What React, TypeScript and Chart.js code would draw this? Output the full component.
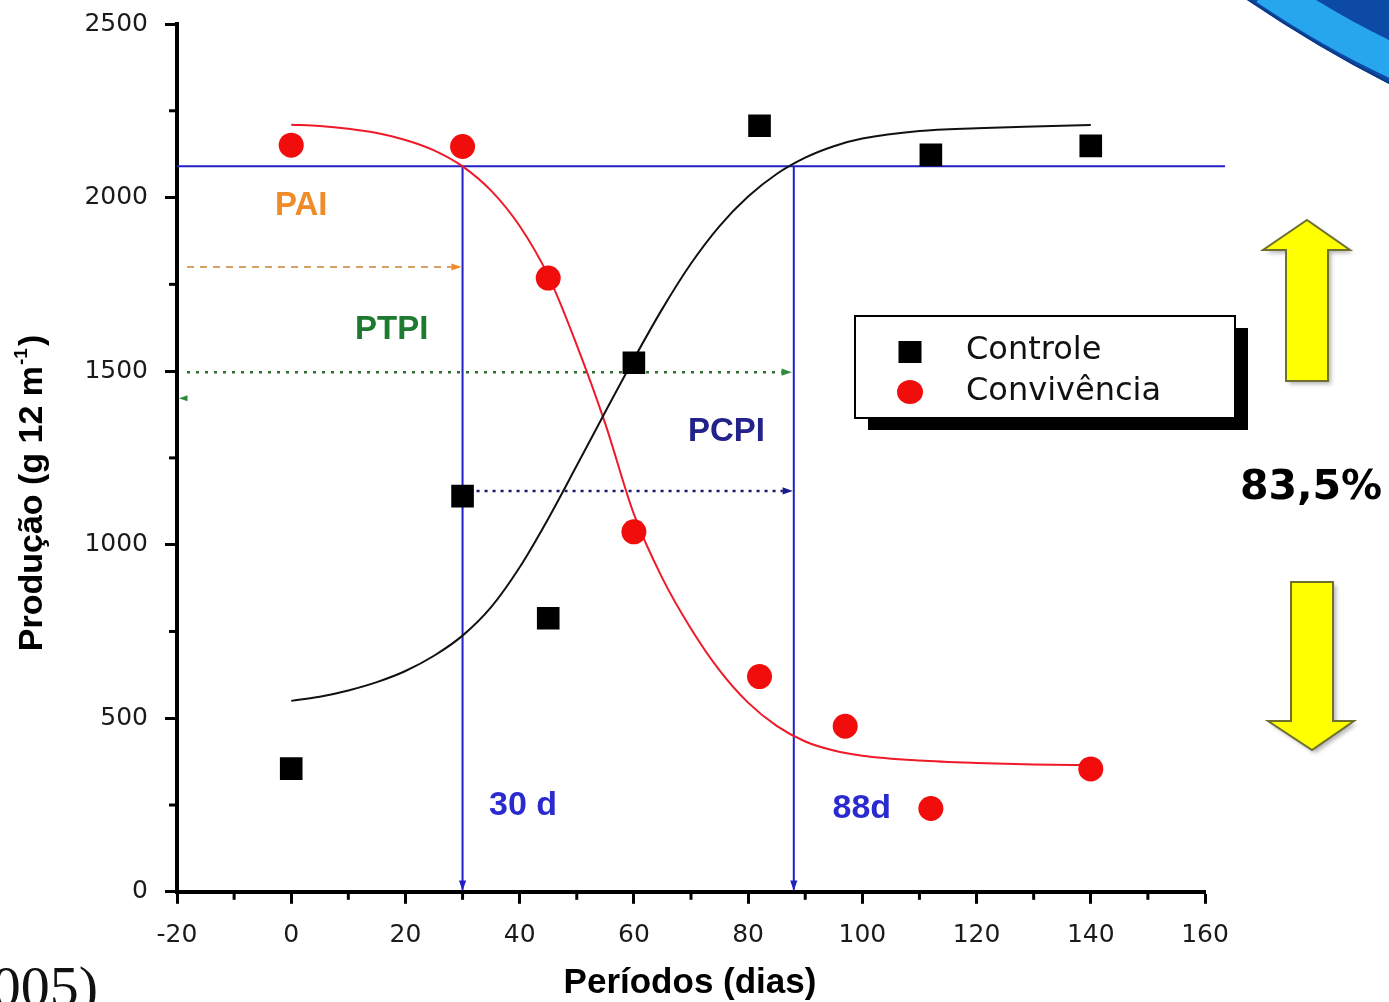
import React, { useEffect, useRef } from 'react';
import { Chart, registerables } from 'chart.js';
Chart.register(...registerables);

// ---- data ----
const controleX = [0, 30, 45, 60, 82, 112, 140];
const controleY = [355, 1140, 788, 1524, 2207, 2123, 2149];
const convX = [0, 30, 45, 60, 82, 97, 112, 140];
const convY = [2151, 2147, 1768, 1037, 620, 477, 240, 354];

const curveX = [0, 5, 10, 15, 20, 25, 30, 35, 40, 45, 50, 55, 60, 65, 70, 75, 80, 85, 90, 95, 100, 110, 120, 130, 140];
const controleCurveY = [550, 562, 580, 604, 636, 680, 738, 820, 935, 1075, 1228, 1383, 1535, 1680, 1810, 1918, 2003, 2068, 2115, 2148, 2170, 2192, 2200, 2205, 2209];
const convCurveY = [2210, 2206, 2198, 2186, 2166, 2136, 2090, 2020, 1918, 1775, 1575, 1348, 1088, 903, 758, 638, 545, 478, 433, 407, 392, 378, 371, 367, 365];

const xTickValues = [-20, 0, 20, 40, 60, 80, 100, 120, 140, 160];
const yTickValues = [0, 500, 1000, 1500, 2000, 2500];
const xMinorTicks = [-10, 10, 30, 50, 70, 90, 110, 130, 150];
const yMinorTicks = [250, 750, 1250, 1750, 2250];

const seriesNames = ['Controle', 'Convivência'];
const refLevel = 2090;
const paiDay = 30;
const pcpiDay = 88;
const paiArrowY = 1800;
const ptpiArrowY = 1497;
const pcpiArrowY = 1155;
const reduction = '83,5%';

const toPts = (xs: number[], ys: number[]) => xs.map((x, i) => ({ x, y: ys[i] }));

function arrowHead(ctx: CanvasRenderingContext2D, x: number, y: number, dir: string, size: number, color: string) {
  ctx.save();
  ctx.fillStyle = color;
  ctx.beginPath();
  if (dir === 'right') {
    ctx.moveTo(x, y); ctx.lineTo(x - size * 1.7, y - size * 0.6); ctx.lineTo(x - size * 1.7, y + size * 0.6);
  } else if (dir === 'down') {
    ctx.moveTo(x, y); ctx.lineTo(x - size * 0.6, y - size * 1.7); ctx.lineTo(x + size * 0.6, y - size * 1.7);
  } else {
    ctx.moveTo(x, y); ctx.lineTo(x + size * 1.7, y - size * 0.6); ctx.lineTo(x + size * 1.7, y + size * 0.6);
  }
  ctx.closePath();
  ctx.fill();
  ctx.restore();
}

const annotPlugin = {
  id: 'annot',
  beforeDatasetsDraw(chart: any) {
    const { ctx, chartArea } = chart;
    const x = chart.scales.x, y = chart.scales.y;
    ctx.save();
    const blue = '#2020c4';
    ctx.strokeStyle = blue;
    ctx.lineWidth = 2;
    const yRef = y.getPixelForValue(refLevel);
    ctx.beginPath();
    ctx.moveTo(chartArea.left, yRef);
    ctx.lineTo(x.getPixelForValue(163.5), yRef);
    ctx.stroke();
    [paiDay, pcpiDay].forEach((d) => {
      const px = x.getPixelForValue(d);
      ctx.beginPath();
      ctx.moveTo(px, yRef);
      ctx.lineTo(px, y.getPixelForValue(0) - 2);
      ctx.stroke();
      arrowHead(ctx, px, y.getPixelForValue(0) - 1, 'down', 6, blue);
    });

    const drawDashed = (x1: number, x2: number, yy: number, dash: number[], color: string, headColor: string, w: number) => {
      ctx.save();
      ctx.setLineDash(dash);
      ctx.strokeStyle = color;
      ctx.lineWidth = w;
      ctx.beginPath();
      ctx.moveTo(x1, yy);
      ctx.lineTo(x2 - 10, yy);
      ctx.stroke();
      ctx.restore();
      arrowHead(ctx, x2, yy, 'right', 6, headColor);
    };
    drawDashed(chartArea.left + 10, x.getPixelForValue(paiDay) - 1, y.getPixelForValue(paiArrowY), [7, 6], '#d9a06a', '#f08a28', 2);
    drawDashed(chartArea.left + 10, x.getPixelForValue(pcpiDay) - 2, y.getPixelForValue(ptpiArrowY), [3, 6], '#2e6e30', '#2e8b3a', 2.5);
    drawDashed(x.getPixelForValue(paiDay) + 14, x.getPixelForValue(pcpiDay) - 1, y.getPixelForValue(pcpiArrowY), [3, 5], '#1a1a6e', '#1a1a8a', 2.5);
    arrowHead(ctx, chartArea.left + 2, y.getPixelForValue(1422), 'left', 5, '#2e8b3a');
    ctx.restore();
  },
  afterDraw(chart: any) {
    const { ctx, chartArea } = chart;
    const x = chart.scales.x, y = chart.scales.y;
    ctx.save();
    // minor ticks
    ctx.strokeStyle = '#000';
    ctx.lineWidth = 3;
    xMinorTicks.forEach((v) => {
      const px = x.getPixelForValue(v);
      ctx.beginPath(); ctx.moveTo(px, chartArea.bottom + 2); ctx.lineTo(px, chartArea.bottom + 8); ctx.stroke();
    });
    yMinorTicks.forEach((v) => {
      const py = y.getPixelForValue(v);
      ctx.beginPath(); ctx.moveTo(chartArea.left - 2, py); ctx.lineTo(chartArea.left - 8, py); ctx.stroke();
    });

    // axis titles
    ctx.fillStyle = '#000';
    ctx.font = 'bold 35px "Liberation Sans", Arial, sans-serif';
    ctx.textAlign = 'center';
    ctx.textBaseline = 'alphabetic';
    ctx.fillText('Períodos (dias)', 690, 993);

    ctx.save();
    ctx.translate(42, 493);
    ctx.rotate(-Math.PI / 2);
    const mainT = 'Produção (g 12 m';
    const supT = '-1';
    const endT = ')';
    ctx.font = 'bold 34px "Liberation Sans", Arial, sans-serif';
    const wMain = ctx.measureText(mainT).width;
    const wEnd = ctx.measureText(endT).width;
    ctx.font = 'bold 19px "Liberation Sans", Arial, sans-serif';
    const wSup = ctx.measureText(supT).width;
    const total = wMain + wSup + wEnd + 3;
    const sx = -total / 2;
    ctx.textAlign = 'left';
    ctx.font = 'bold 34px "Liberation Sans", Arial, sans-serif';
    ctx.fillText(mainT, sx, 0);
    ctx.font = 'bold 19px "Liberation Sans", Arial, sans-serif';
    ctx.fillText(supT, sx + wMain + 1, -15);
    ctx.font = 'bold 34px "Liberation Sans", Arial, sans-serif';
    ctx.fillText(endT, sx + wMain + wSup + 3, 0);
    ctx.restore();

    // annotation labels
    ctx.textAlign = 'center';
    ctx.textBaseline = 'middle';
    const label = (t: string, xv: number, yv: number, color: string, size: number) => {
      ctx.font = `bold ${size}px "Liberation Sans", Arial, sans-serif`;
      ctx.fillStyle = color;
      ctx.fillText(t, x.getPixelForValue(xv), y.getPixelForValue(yv));
    };
    label('PAI', 1.75, 1976, '#f08c28', 33);
    label('PTPI', 17.6, 1620, '#1e7a30', 33);
    label('PCPI', 76.2, 1325, '#22228a', 33);
    label('30 d', 40.6, 247, '#2a2ad0', 34);
    label('88d', 99.9, 241, '#2a2ad0', 34);

    // legend
    const lx = 855, ly = 316, lw = 380, lh = 102;
    ctx.fillStyle = '#000';
    ctx.fillRect(lx + 13, ly + 12, lw, lh);
    ctx.fillStyle = '#fff';
    ctx.fillRect(lx, ly, lw, lh);
    ctx.strokeStyle = '#000';
    ctx.lineWidth = 2;
    ctx.strokeRect(lx, ly, lw, lh);
    const ds = chart.data.datasets;
    ctx.fillStyle = ds[0].backgroundColor;
    ctx.fillRect(910 - 11.5, 352 - 11, 23, 22);
    ctx.fillStyle = ds[1].backgroundColor;
    ctx.beginPath(); ctx.ellipse(910, 392, 13, 12, 0, 0, Math.PI * 2); ctx.fill();
    ctx.fillStyle = '#111';
    ctx.font = '32px "DejaVu Sans", sans-serif';
    ctx.textAlign = 'left';
    ctx.textBaseline = 'middle';
    ctx.fillText(ds[0].label, 966, 351);
    ctx.fillText(ds[1].label, 966, 392);

    // percentage & yellow arrows
    ctx.fillStyle = '#000';
    ctx.font = 'bold 41px "DejaVu Sans", sans-serif';
    ctx.textAlign = 'center';
    ctx.fillText(reduction, 1311, 488);

    const up = [[1307, 220], [1350, 250], [1328, 250], [1328, 381], [1286, 381], [1286, 250], [1263, 250]];
    const down = [[1291, 582], [1333, 582], [1333, 721], [1354, 721], [1312, 750], [1268, 721], [1291, 721]];
    const path = (pts: number[][]) => {
      ctx.beginPath();
      pts.forEach((p, i) => (i ? ctx.lineTo(p[0], p[1]) : ctx.moveTo(p[0], p[1])));
      ctx.closePath();
    };
    ctx.save();
    ctx.shadowColor = 'rgba(0,0,0,0.3)';
    ctx.shadowBlur = 4;
    ctx.shadowOffsetX = 3;
    ctx.shadowOffsetY = 3;
    ctx.fillStyle = '#ffff00';
    path(up); ctx.fill();
    path(down); ctx.fill();
    ctx.restore();
    ctx.strokeStyle = '#6f6f30';
    ctx.lineWidth = 2;
    path(up); ctx.stroke();
    path(down); ctx.stroke();

    // corner swoosh
    ctx.save();
    ctx.beginPath();
    ctx.moveTo(1247, 0);
    ctx.quadraticCurveTo(1318, 48, 1389, 84);
    ctx.lineTo(1389, 0);
    ctx.closePath();
    ctx.clip();
    ctx.fillStyle = '#0d4aa6';
    ctx.fillRect(1240, 0, 150, 90);
    ctx.strokeStyle = '#27a6ee';
    ctx.lineWidth = 34;
    ctx.beginPath();
    ctx.moveTo(1266, -12);
    ctx.quadraticCurveTo(1334, 34, 1400, 64);
    ctx.stroke();
    ctx.strokeStyle = '#0a3a86';
    ctx.lineWidth = 4;
    ctx.beginPath();
    ctx.moveTo(1247, 0);
    ctx.quadraticCurveTo(1318, 48, 1389, 84);
    ctx.stroke();
    ctx.restore();

    // cut-off citation
    ctx.fillStyle = '#111';
    ctx.font = '58px "Liberation Serif", serif';
    ctx.textAlign = 'right';
    ctx.textBaseline = 'alphabetic';
    ctx.fillText('(2005)', 98, 1006);
    ctx.restore();
  },
};

export default function App() {
  const ref = useRef<HTMLCanvasElement | null>(null);
  useEffect(() => {
    const tickFont = { family: '"DejaVu Sans", sans-serif', size: 25 };
    const chart = new Chart(ref.current as HTMLCanvasElement, {
      type: 'scatter',
      data: {
        datasets: [
          {
            label: seriesNames[0],
            data: toPts(controleX, controleY),
            pointStyle: 'rect',
            pointRadius: 16,
            backgroundColor: '#000000',
            borderWidth: 0,
          },
          {
            label: seriesNames[1],
            data: toPts(convX, convY),
            pointStyle: 'circle',
            pointRadius: 12.5,
            backgroundColor: '#f20d0d',
            borderWidth: 0,
          },
          {
            label: seriesNames[0] + ' ajuste',
            data: toPts(curveX, controleCurveY),
            showLine: true,
            pointRadius: 0,
            borderColor: '#111111',
            borderWidth: 2,
            cubicInterpolationMode: 'monotone',
          },
          {
            label: seriesNames[1] + ' ajuste',
            data: toPts(curveX, convCurveY),
            showLine: true,
            pointRadius: 0,
            borderColor: '#ee1a2a',
            borderWidth: 2,
            cubicInterpolationMode: 'monotone',
          },
        ],
      } as any,
      options: {
        animation: false,
        responsive: false,
        devicePixelRatio: 1,
        layout: { padding: { left: 0, right: 184, top: 24, bottom: 0 } },
        plugins: { legend: { display: false }, tooltip: { enabled: false } },
        scales: {
          x: {
            type: 'linear',
            min: -20,
            max: 160,
            afterBuildTicks: (s: any) => { s.ticks = xTickValues.map((v) => ({ value: v })); },
            afterFit: (s: any) => { s.height = 110.2; s.paddingLeft = 0; s.paddingRight = 0; },
            ticks: { font: tickFont, color: '#1a1a1a', padding: 17, maxRotation: 0, autoSkip: false, callback: (v: any) => String(v) },
            grid: { drawOnChartArea: false, drawTicks: true, tickLength: 12, tickWidth: 3, tickColor: '#000' },
            border: { display: true, width: 4, color: '#000' },
          },
          y: {
            type: 'linear',
            min: 0,
            max: 2500,
            afterBuildTicks: (s: any) => { s.ticks = yTickValues.map((v) => ({ value: v })); },
            afterFit: (s: any) => { s.width = 177; s.paddingTop = 0; s.paddingBottom = 0; },
            ticks: { font: tickFont, color: '#1a1a1a', padding: 17, autoSkip: false, callback: (v: any) => String(v) },
            grid: { drawOnChartArea: false, drawTicks: true, tickLength: 12, tickWidth: 3, tickColor: '#000' },
            border: { display: true, width: 4, color: '#000' },
          },
        },
      } as any,
      plugins: [annotPlugin],
    });
    return () => chart.destroy();
  }, []);
  return (
    <div style={{ position: 'absolute', left: 0, top: 0, width: 1389, height: 1002, background: '#fff' }}>
      <canvas ref={ref} width={1389} height={1002} style={{ display: 'block' }} />
    </div>
  );
}
